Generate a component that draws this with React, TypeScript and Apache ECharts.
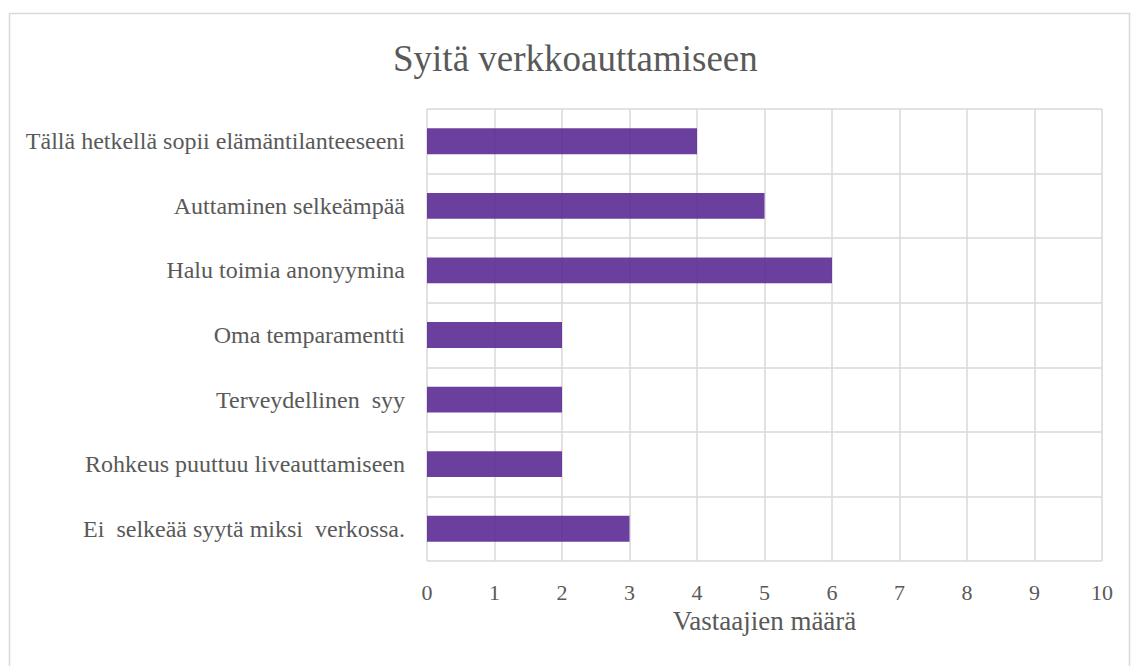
import React, { useEffect, useRef } from "react";
import * as echarts from "echarts";

const categories = [
  "Tällä hetkellä sopii elämäntilanteeseeni",
  "Auttaminen selkeämpää",
  "Halu toimia anonyymina",
  "Oma temparamentti",
  "Terveydellinen  syy",
  "Rohkeus puuttuu liveauttamiseen",
  "Ei  selkeää syytä miksi  verkossa.",
];
const values = [4, 5, 6, 2, 2, 2, 3];
const titleText = "Syitä verkkoauttamiseen";
const xAxisName = "Vastaajien määrä";

const FONT = "Liberation Serif";
const TEXT = "#595959";
const GRID = "#d9d9d9";

export default function App() {
  const ref = useRef<HTMLDivElement>(null);
  useEffect(() => {
    const chart = echarts.init(ref.current!, null, { renderer: "svg" });
    chart.setOption({
      animation: false,
      backgroundColor: "#ffffff",
      title: {
        text: titleText,
        left: 388,
        top: 35,
        textStyle: { fontFamily: FONT, fontSize: 37, fontWeight: "normal", color: TEXT },
      },
      graphic: [
        {
          type: "rect",
          shape: { x: 9.5, y: 13.5, width: 1120, height: 700 },
          style: { fill: "none", stroke: GRID, lineWidth: 1.5 },
          silent: true,
        },
      ],
      grid: { left: 427, right: 29, top: 109, bottom: 105 },
      xAxis: {
        type: "value",
        min: 0,
        max: 10,
        interval: 1,
        name: xAxisName,
        nameLocation: "middle",
        nameGap: 45,
        nameTextStyle: { fontFamily: FONT, fontSize: 27, color: TEXT },
        axisLabel: { fontFamily: FONT, fontSize: 22, color: TEXT, margin: 20 },
        axisLine: { show: false },
        axisTick: { show: false },
        splitLine: { show: true, lineStyle: { color: GRID, width: 1.5 } },
      },
      yAxis: {
        type: "category",
        inverse: true,
        data: categories,
        axisLabel: { fontFamily: FONT, fontSize: 24, color: TEXT, margin: 22 },
        axisLine: { show: false },
        axisTick: { show: false },
        splitLine: { show: true, lineStyle: { color: GRID, width: 1.5 } },
      },
      series: [
        {
          type: "bar",
          data: values,
          barCategoryGap: "60%",
          itemStyle: { color: "#5b2a93", opacity: 0.9 },
        },
      ],
    });
    return () => chart.dispose();
  }, []);
  return (
    <div
      ref={ref}
      style={{ position: "fixed", left: 0, top: 0, width: 1131, height: 666 }}
    />
  );
}
